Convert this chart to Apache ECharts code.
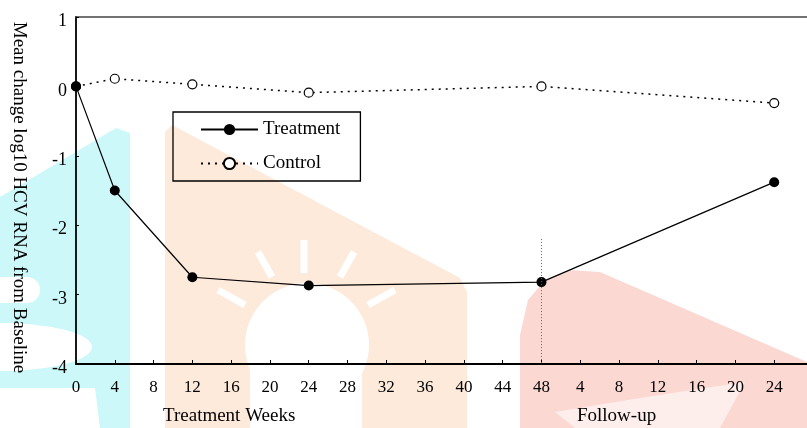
<!DOCTYPE html>
<html><head><meta charset="utf-8">
<script src="https://cdn.jsdelivr.net/npm/echarts@6/dist/echarts.min.js"></script>
<style>html,body{margin:0;padding:0;background:#fff}#c{width:807px;height:428px}</style>
</head><body><div id="c"></div>
<script>
// ---- data ----
const weeks = [0, 4, 12, 24, 48, 72];
const treatment = [0, -1.5, -2.75, -2.87, -2.82, -1.38];
const control = [0, 0.11, 0.03, -0.09, 0.0, -0.24];
const xTickLabels = ['0','4','8','12','16','20','24','28','32','36','40','44','48','4','8','12','16','20','24'];
const seriesNames = ['Treatment', 'Control'];
const xTitleTreatment = 'Treatment Weeks';
const xTitleFollow = 'Follow-up';
const yTitle = 'Mean change log10 HCV RNA from Baseline';
const endOfTreatmentWeek = 48;

const FONT = "'Liberation Serif', 'Times New Roman', serif";
const chart = echarts.init(document.getElementById('c'), null, {renderer: 'canvas'});

const cyan = '#cdf8fa', orange = '#fdeadb', red = '#fcd8d3';
const bg = [
  {type:'polygon', shape:{points:[[0,197],[116,128],[130,133],[130,428],[0,428]]}, style:{fill:cyan}},
  {type:'rect', shape:{x:0,y:277,width:40,height:26,r:[0,13,13,0]}, style:{fill:'#fff'}},
  {type:'ellipse', shape:{cx:0,cy:347,rx:92,ry:24}, style:{fill:'#fff'}},
  {type:'polygon', shape:{points:[[0,388],[95,388],[100,428],[0,428]]}, style:{fill:'#fff'}},
  {type:'polygon', shape:{points:[[165,428],[165,132],[172,125],[460,278],[467,292],[467,428]]}, style:{fill:orange}},
  {type:'circle', shape:{cx:307,cy:345,r:62}, style:{fill:'#fff'}},
  {type:'rect', shape:{x:250,y:345,width:112,height:83}, style:{fill:'#fff'}},
  {type:'line', shape:{x1:304,y1:240,x2:304,y2:273}, style:{stroke:'#fff',lineWidth:7}},
  {type:'line', shape:{x1:258,y1:252,x2:272,y2:277}, style:{stroke:'#fff',lineWidth:7}},
  {type:'line', shape:{x1:218,y1:290,x2:245,y2:305}, style:{stroke:'#fff',lineWidth:7}},
  {type:'line', shape:{x1:354,y1:252,x2:340,y2:277}, style:{stroke:'#fff',lineWidth:7}},
  {type:'line', shape:{x1:395,y1:290,x2:368,y2:305}, style:{stroke:'#fff',lineWidth:7}},
  {type:'polygon', shape:{points:[[520,428],[520,335],[528,300],[545,280],[570,270],[600,272],[807,362],[807,428]]}, style:{fill:red}},
  {type:'polygon', shape:{points:[[555,412],[640,398],[745,382],[720,428],[575,428]]}, style:{fill:'#fdeeec'}}
].map(e => Object.assign(e, {z:-10, silent:true}));

const option = {
  backgroundColor: '#fff',
  animation: false,
  textStyle: {fontFamily: FONT},
  grid: {left: 76, top: 17, width: 737, height: 347, outerBoundsMode: 'none', containLabel: false},
  legend: {
    orient: 'vertical', left: 173, top: 112,
    padding: [8, 20, 8, 27],
    itemWidth: 57, itemHeight: 14, itemGap: 15,
    borderColor: '#000', borderWidth: 1.3,
    textStyle: {fontFamily: FONT, fontSize: 19, lineHeight: 19, color: '#000'},
    data: seriesNames
  },
  xAxis: [{
    type: 'value', min: 0, max: 76, interval: 4,
    axisLine: {onZero: false, lineStyle: {color: '#000', width: 1.8}},
    axisTick: {inside: true, length: 4, lineStyle: {color: '#000'}},
    axisLabel: {color: '#000', fontFamily: FONT, fontSize: 17, margin: 15,
      formatter: v => (xTickLabels[v / 4] !== undefined ? xTickLabels[v / 4] : '')},
    splitLine: {show: false}
  }, {
    type: 'value', min: 0, max: 76, position: 'top',
    axisLine: {show: true, onZero: false, lineStyle: {color: '#444', width: 1.5}},
    axisTick: {show: false}, axisLabel: {show: false}, splitLine: {show: false}
  }],
  yAxis: {
    type: 'value', min: -4, max: 1, interval: 1,
    axisLine: {show: true, onZero: false, lineStyle: {color: '#000', width: 1.8}},
    axisTick: {show: true, inside: true, length: 3, lineStyle: {color: '#000'}},
    axisLabel: {color: '#000', fontFamily: FONT, fontSize: 18, margin: 9,
      verticalAlign: 'top', lineHeight: 9},
    splitLine: {show: false},
    name: yTitle, nameLocation: 'middle', nameRotate: -90, nameGap: 48,
    nameTextStyle: {color: '#000', fontFamily: FONT, fontSize: 19, padding: [0, 0, 0, 14]}
  },
  graphic: bg.concat([
    {type:'text', left: 163, top: 407, z: 10, style:{text: xTitleTreatment, font: '19px ' + FONT, fill:'#000'}},
    {type:'text', left: 577, top: 407, z: 10, style:{text: xTitleFollow, font: '19px ' + FONT, fill:'#000'}}
  ]),
  series: [{
    name: seriesNames[0], type: 'line', z: 4,
    data: weeks.map((w, i) => [w, treatment[i]]),
    symbol: 'circle', symbolSize: 10,
    itemStyle: {color: '#000'},
    lineStyle: {color: '#000', width: 1.2},
    markLine: {
      silent: true, symbol: ['none', 'none'], label: {show: false},
      lineStyle: {type: [1, 2], color: '#666', width: 1},
      data: [[{coord: [endOfTreatmentWeek, -2.2]}, {coord: [endOfTreatmentWeek, -4]}]]
    }
  }, {
    name: seriesNames[1], type: 'line', z: 3,
    data: weeks.map((w, i) => [w, control[i]]),
    symbol: 'circle', symbolSize: 9,
    itemStyle: {color: '#fff', borderColor: '#000', borderWidth: 1.2},
    lineStyle: {color: '#000', width: 1.5, type: [2, 5]}
  }]
};
chart.setOption(option);
</script></body></html>
